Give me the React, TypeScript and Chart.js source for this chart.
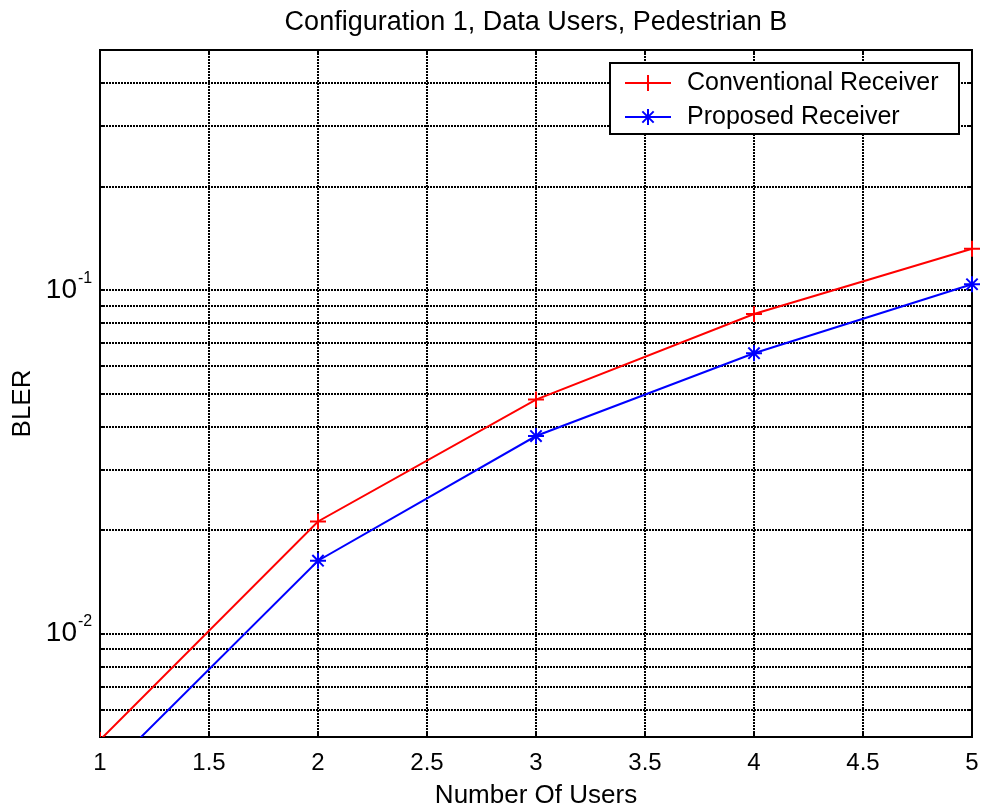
import React, { useEffect, useRef } from 'react';
import { Chart, registerables } from 'chart.js';

Chart.register(...registerables);

const FONT = "'Liberation Sans', Arial, Helvetica, sans-serif";

const chartTitle = 'Configuration 1, Data Users, Pedestrian B';
const xAxisLabel = 'Number Of Users';
const yAxisLabel = 'BLER';
const seriesNames = ['Conventional Receiver', 'Proposed Receiver'];
const numberOfUsers = [1, 2, 3, 4, 5];
const conventionalBler = [0.0049, 0.0212, 0.048, 0.0852, 0.132];
const proposedBler = [0.0038, 0.0163, 0.0376, 0.0655, 0.104];
const xTickValues = [1, 1.5, 2, 2.5, 3, 3.5, 4, 4.5, 5];
const yGridValues = [
  0.005, 0.006, 0.007, 0.008, 0.009,
  0.01, 0.02, 0.03, 0.04, 0.05, 0.06, 0.07, 0.08, 0.09,
  0.1, 0.2, 0.3, 0.4, 0.5,
];
const yLabelValues = [0.01, 0.1];
const yLabelExponents = ['-2', '-1'];

function drawMarker(ctx: CanvasRenderingContext2D, style: string, x: number, y: number, r: number) {
  ctx.beginPath();
  ctx.moveTo(x - r, y); ctx.lineTo(x + r, y);
  ctx.moveTo(x, y - r); ctx.lineTo(x, y + r);
  if (style === 'star') {
    const d = r * Math.SQRT1_2;
    ctx.moveTo(x - d, y - d); ctx.lineTo(x + d, y + d);
    ctx.moveTo(x - d, y + d); ctx.lineTo(x + d, y - d);
  }
  ctx.stroke();
}

const whiteBg = {
  id: 'whiteBg',
  beforeDraw(chart: any) {
    const c = chart.ctx;
    c.save();
    c.fillStyle = '#fff';
    c.fillRect(0, 0, chart.width, chart.height);
    c.restore();
  },
};

const axesBox = {
  id: 'axesBox',
  beforeDatasetsDraw(chart: any) {
    const { ctx, chartArea: a, scales } = chart;
    const x = scales.x;
    const y = scales.y;
    ctx.save();
    ctx.strokeStyle = '#000';
    ctx.lineWidth = 2;
    ctx.setLineDash([]);
    const L = Math.round(a.left);
    const T = Math.round(a.top);
    const R = Math.round(a.right);
    const B = Math.round(a.bottom);
    ctx.strokeRect(L, T, R - L, B - T);
    const tl = 5;
    ctx.beginPath();
    yGridValues.forEach((v) => {
      const py = Math.round(y.getPixelForValue(v));
      ctx.moveTo(L, py); ctx.lineTo(L + tl, py);
      ctx.moveTo(R, py); ctx.lineTo(R - tl, py);
    });
    xTickValues.forEach((v) => {
      const px = Math.round(x.getPixelForValue(v));
      ctx.moveTo(px, B); ctx.lineTo(px, B - tl);
      ctx.moveTo(px, T); ctx.lineTo(px, T + tl);
    });
    ctx.stroke();
    ctx.restore();
  },
};

const textAndLegend = {
  id: 'textAndLegend',
  afterDraw(chart: any) {
    const { ctx, chartArea: a, scales } = chart;
    const y = scales.y;
    ctx.save();
    ctx.fillStyle = '#000';

    // title centred over the axes
    ctx.font = `27px ${FONT}`;
    ctx.textAlign = 'center';
    ctx.textBaseline = 'middle';
    ctx.fillText(chartTitle, (a.left + a.right) / 2, 23);

    // y axis label
    ctx.save();
    ctx.translate(23, (a.top + a.bottom) / 2 + 10);
    ctx.rotate(-Math.PI / 2);
    ctx.font = `26px ${FONT}`;
    ctx.textAlign = 'center';
    ctx.textBaseline = 'middle';
    ctx.fillText(yAxisLabel, 0, 0);
    ctx.restore();

    // y tick labels 10^n
    yLabelValues.forEach((v, i) => {
      const py = y.getPixelForValue(v);
      ctx.font = `28px ${FONT}`;
      ctx.textAlign = 'right';
      ctx.textBaseline = 'middle';
      ctx.fillText('10', a.left - 23, py);
      ctx.font = `16px ${FONT}`;
      ctx.textAlign = 'left';
      ctx.fillText(yLabelExponents[i], a.left - 22, py - 12);
    });

    // legend
    const R = Math.round(a.right);
    const T = Math.round(a.top);
    const lw = 349;
    const lh = 71;
    const lx = R - 13 - lw;
    const ly = T + 13;
    ctx.fillStyle = '#fff';
    ctx.fillRect(lx, ly, lw, lh);
    ctx.strokeStyle = '#000';
    ctx.lineWidth = 2;
    ctx.strokeRect(lx, ly, lw, lh);
    chart.data.datasets.forEach((ds: any, i: number) => {
      const rowY = ly + 20 + i * 34;
      ctx.strokeStyle = ds.borderColor;
      ctx.lineWidth = 2;
      ctx.beginPath();
      ctx.moveTo(lx + 15, rowY);
      ctx.lineTo(lx + 61, rowY);
      ctx.stroke();
      drawMarker(ctx, ds.pointStyle, lx + 38, rowY, 8);
      ctx.fillStyle = '#000';
      ctx.font = `25px ${FONT}`;
      ctx.textAlign = 'left';
      ctx.textBaseline = 'middle';
      ctx.fillText(ds.label, lx + 77, rowY);
    });
    ctx.restore();
  },
};

export default function App() {
  const ref = useRef<HTMLCanvasElement | null>(null);
  useEffect(() => {
    if (!ref.current) return;
    Chart.defaults.font.family = FONT;
    Chart.defaults.color = '#000';
    const chart = new Chart(ref.current, {
      type: 'line',
      data: {
        datasets: [
          {
            label: seriesNames[0],
            data: numberOfUsers.map((u, i) => ({ x: u, y: conventionalBler[i] })),
            borderColor: '#ff0000',
            backgroundColor: '#ff0000',
            borderWidth: 2,
            pointStyle: 'cross',
            pointRadius: 8,
            pointBorderWidth: 2,
            tension: 0,
            clip: { left: 0, top: 0, right: 12, bottom: 0 },
          },
          {
            label: seriesNames[1],
            data: numberOfUsers.map((u, i) => ({ x: u, y: proposedBler[i] })),
            borderColor: '#0000ff',
            backgroundColor: '#0000ff',
            borderWidth: 2,
            pointStyle: 'star',
            pointRadius: 8,
            pointBorderWidth: 2,
            tension: 0,
            clip: { left: 0, top: 0, right: 12, bottom: 0 },
          },
        ],
      },
      options: {
        responsive: false,
        animation: false,
        devicePixelRatio: 1,
        layout: { padding: { top: 50, right: 13, bottom: 0, left: 0 } },
        plugins: {
          legend: { display: false },
          tooltip: { enabled: false },
          title: { display: false },
        },
        scales: {
          x: {
            type: 'linear',
            min: 1,
            max: 5,
            afterBuildTicks: (s: any) => { s.ticks = xTickValues.map((v) => ({ value: v })); },
            afterFit: (s: any) => {
              s.height = 75;
              s.paddingLeft = 0;
              s.paddingRight = 0;
            },
            ticks: {
              color: '#000',
              font: { size: 24, family: FONT },
              padding: 12,
              maxRotation: 0,
              autoSkip: false,
              callback: (v: any) => String(v),
            },
            grid: { color: '#000', lineWidth: 2, drawTicks: false },
            border: { display: false, dash: [2, 1] },
            title: {
              display: true,
              text: xAxisLabel,
              color: '#000',
              font: { size: 26, family: FONT },
              padding: { top: 0, bottom: 1 },
            },
          },
          y: {
            type: 'logarithmic',
            min: 0.005,
            max: 0.5,
            afterBuildTicks: (s: any) => { s.ticks = yGridValues.map((v) => ({ value: v })); },
            afterFit: (s: any) => {
              s.width = 100;
              s.paddingTop = 0;
              s.paddingBottom = 0;
            },
            ticks: { display: false },
            grid: { color: '#000', lineWidth: 2, drawTicks: false },
            border: { display: false, dash: [2, 1] },
            title: { display: false },
          },
        },
      },
      plugins: [whiteBg, axesBox, textAndLegend],
    } as any);
    return () => chart.destroy();
  }, []);
  return (
    <div style={{ position: 'absolute', left: 0, top: 0, width: 985, height: 812 }}>
      <canvas ref={ref} width={985} height={812} style={{ display: 'block' }} />
    </div>
  );
}
